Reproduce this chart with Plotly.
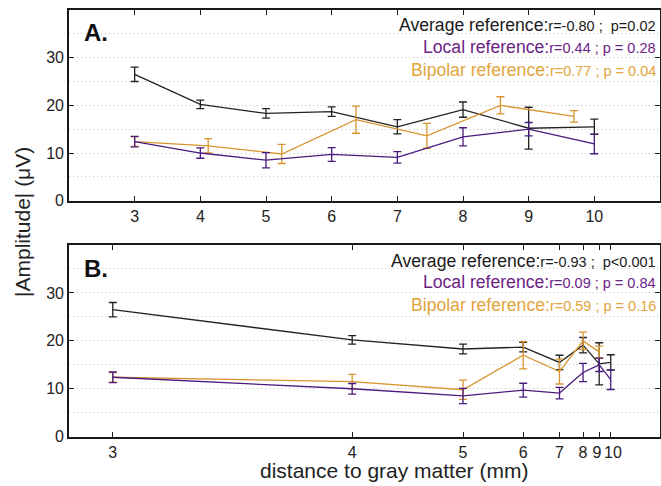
import plotly.graph_objects as go

# ---------------- data ----------------
distances = [3, 4, 5, 6, 7, 8, 9, 10]
avg_mean = [26.5, 20.2, 18.3, 18.7, 15.5, 19.1, 15.2, 15.5]
avg_err = [1.5, 0.9, 1.0, 1.0, 1.5, 1.6, 4.4, 1.6]
local_mean = [12.4, 10.0, 8.5, 9.7, 9.1, 13.4, 15.0, 11.9]
local_err = [1.1, 1.1, 1.6, 1.45, 1.2, 1.9, 1.4, 2.05]
bip_dist_top = [3, 4.12, 5.24, 6.37, 7.45, 8.57, 9.69]
bip_dist_bottom = [3, 4, 5, 6, 7, 8, 9]
bip_mean = [12.4, 11.5, 9.8, 17.0, 13.6, 20.0, 17.7]
bip_err = [1.0, 1.5, 2.0, 2.85, 2.6, 1.8, 1.2]
tick_labels = ["3", "4", "5", "6", "7", "8", "9", "10"]
# bottom axis: 9 and 10 sit very close, pad them apart with no-break spaces
tick_labels_bottom = ["3", "4", "5", "6", "7", "8", "9\u00a0", "\u00a010"]
y_ticks = [0, 10, 20, 30]
stats_top = ["r=-0.80 ;&nbsp; p=0.02", "r=0.44 ; p = 0.28", "r=0.77 ; p = 0.04"]
stats_bottom = ["r=-0.93 ;&nbsp; p<0.001", "r=0.09 ; p = 0.84", "r=0.59 ; p = 0.16"]
ref_names = ["Average reference:", "Local reference:", "Bipolar reference:"]

BLACK = "#222222"
PURPLE = "#4A1B7E"
ORANGE = "#D8952F"
PURPLE_T = "#6B2385"
ORANGE_T = "#E3A43C"
FONT = "Liberation Sans, Arial, sans-serif"

W, H = 661, 486
ML, MR, MT, MB = 69, 1, 10, 49
PW = W - ML - MR
PH = H - MT - MB


def px_x(p):
    return (p - ML) / PW


def px_y(p):
    return (H - MB - p) / PH


def inv_sq(vals):
    return [-1.0 / (v * v) for v in vals]


fig = go.Figure()


def add_series(x, y, err, color, xa, ya):
    fig.add_trace(go.Scatter(
        x=x, y=y, mode="lines", xaxis=xa, yaxis=ya,
        line=dict(color=color, width=1.3),
        error_y=dict(type="data", array=err, visible=True, color=color,
                     thickness=1.3, width=4),
        showlegend=False, hoverinfo="skip", cliponaxis=False))


# top panel (linear distance)
add_series(distances, avg_mean, avg_err, BLACK, "x", "y")
add_series(bip_dist_top, bip_mean, bip_err, ORANGE, "x", "y")
add_series(distances, local_mean, local_err, PURPLE, "x", "y")

# bottom panel (-1/d^2 distance)
add_series(inv_sq(distances), avg_mean, avg_err, BLACK, "x2", "y2")
add_series(inv_sq(bip_dist_bottom), bip_mean, bip_err, ORANGE, "x2", "y2")
add_series(inv_sq(distances), local_mean, local_err, PURPLE, "x2", "y2")

top_dom = [px_y(200.7), px_y(10)]
bot_dom = [px_y(436.7), px_y(245)]

GRID = "#c2c2c2"
DOTS = "1px,3px"

axis_common = dict(
    showline=True, linecolor="#1a1a1a", linewidth=1.6, mirror="ticks",
    ticks="inside", ticklen=5, tickwidth=1.2, tickcolor="#1a1a1a",
    zeroline=False, tickfont=dict(family=FONT, size=16, color="#222"),
    automargin=False, tickangle=0,
)

yaxis_common = dict(
    axis_common, range=[0, 40], tickvals=y_ticks, showgrid=True,
    gridcolor=GRID, griddash=DOTS, gridwidth=1,
    minor=dict(dtick=5, showgrid=True, gridcolor=GRID, griddash=DOTS,
               gridwidth=1, ticks=""),
)

fig.update_layout(
    width=W, height=H,
    margin=dict(l=ML, r=MR, t=MT, b=MB, autoexpand=False),
    paper_bgcolor="white", plot_bgcolor="white",
    font=dict(family=FONT, color="#222"),
    xaxis=dict(axis_common, domain=[0, 1], range=[2, 11],
               tickvals=distances, ticktext=tick_labels, anchor="y",
               showgrid=False),
    yaxis=dict(yaxis_common, domain=top_dom, anchor="x"),
    xaxis2=dict(axis_common, domain=[0, 1], range=[-0.12, 0],
                tickvals=inv_sq(distances), ticktext=tick_labels_bottom,
                anchor="y2", showgrid=False),
    yaxis2=dict(yaxis_common, domain=bot_dom, anchor="x2"),
)

annotations = []
# panel letters
annotations.append(dict(x=px_x(82), y=px_y(33), xref="paper", yref="paper",
                        text="<b>A.</b>", showarrow=False, xanchor="left",
                        yanchor="middle", font=dict(size=24, color="#111", family=FONT)))
annotations.append(dict(x=px_x(82), y=px_y(268), xref="paper", yref="paper",
                        text="<b>B.</b>", showarrow=False, xanchor="left",
                        yanchor="middle", font=dict(size=24, color="#111", family=FONT)))

text_colors = ["#1a1a1a", PURPLE_T, ORANGE_T]
for ys, stats in (([25, 47, 69.5], stats_top), ([260.5, 282.5, 304.5], stats_bottom)):
    for yy, name, st, col in zip(ys, ref_names, stats, text_colors):
        annotations.append(dict(
            x=px_x(658), y=px_y(yy), xref="paper", yref="paper",
            text=f"{name}<span style='font-size:14.5px'>{st}</span>",
            showarrow=False, xanchor="right", yanchor="middle",
            font=dict(size=17.6, color=col, family=FONT)))

# axis titles
annotations.append(dict(x=px_x(394), y=px_y(470), xref="paper", yref="paper",
                        text="distance to gray matter (mm)", showarrow=False,
                        xanchor="center", yanchor="middle",
                        font=dict(size=21, color="#222", family=FONT)))
annotations.append(dict(x=px_x(22), y=px_y(222), xref="paper", yref="paper",
                        text="|Amplitude| (μV)", showarrow=False, textangle=-90,
                        xanchor="center", yanchor="middle",
                        font=dict(size=21, color="#222", family=FONT)))

fig.update_layout(annotations=annotations)

fig.write_html(
    "out.html",
    config={"displayModeBar": False},
    post_script="document.body.style.margin='0px';document.body.style.padding='0px';",
)
